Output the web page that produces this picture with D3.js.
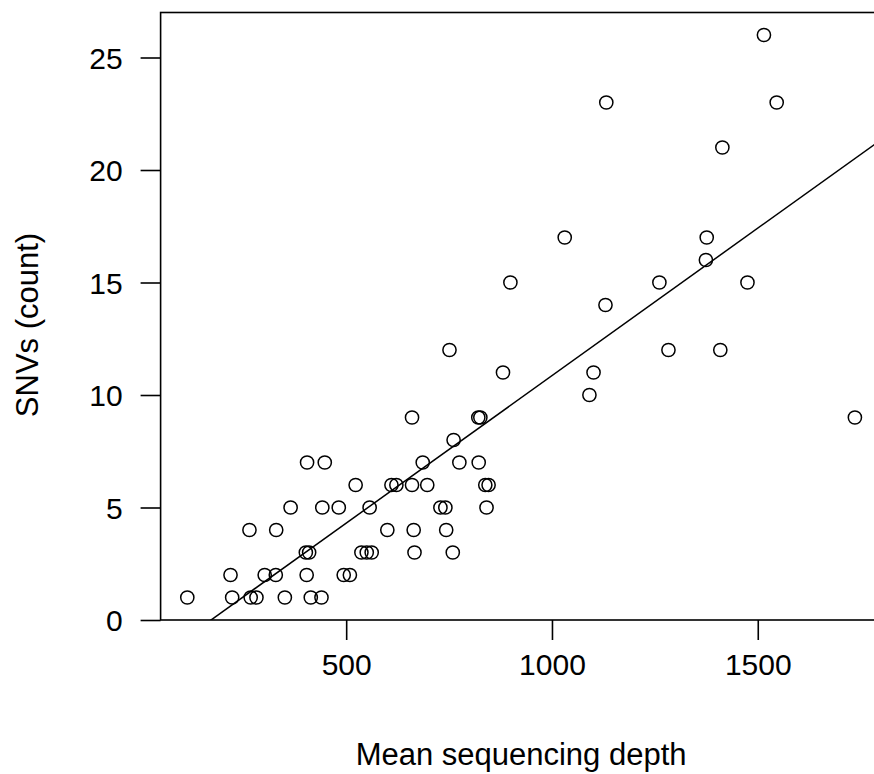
<!DOCTYPE html>
<html>
<head>
<meta charset="utf-8">
<script src="https://cdn.jsdelivr.net/npm/d3@7"></script>
<style>
  html, body { margin: 0; padding: 0; background: #fff; }
  svg text { font-family: "Liberation Sans", Arial, sans-serif; fill: #000; }
</style>
</head>
<body>
<div id="chart"></div>
<script>
// mean sequencing depth (x) and SNV count (y), one entry per sample
var depth = [114, 223, 268, 282, 351, 414, 440,
             219, 302, 329, 404, 494, 509,
             402, 410, 537, 550, 562, 666, 759,
             265, 330, 600, 664, 743,
             365, 442, 482, 557, 729, 741, 841,
             523, 610, 622, 660, 697, 838, 846,
             405, 448, 686, 775, 822,
             761,
             660, 821, 826, 1736,
             1091,
             881, 1101,
             751, 1283, 1409,
             1130,
             899, 1261, 1475,
             1374,
             1031, 1376,
             1414,
             1132, 1546,
             1515];
var snvs = [1, 1, 1, 1, 1, 1, 1,
            2, 2, 2, 2, 2, 2,
            3, 3, 3, 3, 3, 3, 3,
            4, 4, 4, 4, 4,
            5, 5, 5, 5, 5, 5, 5,
            6, 6, 6, 6, 6, 6, 6,
            7, 7, 7, 7, 7,
            8,
            9, 9, 9, 9,
            10,
            11, 11,
            12, 12, 12,
            14,
            15, 15, 15,
            16,
            17, 17,
            21,
            23, 23,
            26];
var xTicks = [500, 1000, 1500];
var yTicks = [0, 5, 10, 15, 20, 25];

const Width = 874, Height = 774;
const margin = {top: 12.5, left: 160.6, right: -7.6, bottom: 154};
const plotW = Width - margin.left - margin.right;
const plotH = Height - margin.top - margin.bottom;
const tickFont = 30, titleFont = 31;

var svg = d3.select("#chart").append("svg")
    .attr("width", Width).attr("height", Height);

// R style: usr range extends 4% past the data on each side
const xr = d3.extent(depth), yr = d3.extent(snvs);
const xPad = (xr[1] - xr[0]) * 0.04, yPad = (yr[1] - yr[0]) * 0.04;
var xScale = d3.scaleLinear().domain([xr[0] - xPad, xr[1] + xPad]).range([0, plotW]);
var yScale = d3.scaleLinear().domain([yr[0] - yPad, yr[1] + yPad]).range([plotH, 0]);

var g = svg.append("g").attr("transform", "translate(" + margin.left + "," + margin.top + ")");

// axes
var xAxis = d3.axisBottom(xScale).tickValues(xTicks).tickFormat(d3.format("d"))
    .tickSize(20).tickSizeOuter(0).tickPadding(14);
var yAxis = d3.axisLeft(yScale).tickValues(yTicks).tickFormat(d3.format("d"))
    .tickSize(20).tickSizeOuter(0).tickPadding(18);

var gx = g.append("g").attr("transform", "translate(0," + plotH + ")").call(xAxis);
var gy = g.append("g").call(yAxis);
[gx, gy].forEach(a => {
    a.select(".domain").remove();
    a.selectAll("line").attr("stroke", "#000").attr("stroke-width", 1.6);
    a.selectAll("text").style("font-size", tickFont + "px")
        .style("font-family", '"Liberation Sans", Arial, sans-serif');
});
gx.selectAll("text").attr("dy", "0.71em");
gy.selectAll("text").attr("dy", "0.36em");

// box
g.append("rect").attr("x", 0).attr("y", 0).attr("width", plotW).attr("height", plotH)
    .attr("fill", "none").attr("stroke", "#000").attr("stroke-width", 1.6);

// least squares fit (abline(lm(snvs ~ depth)))
const mx = d3.mean(depth), my = d3.mean(snvs);
let sxy = 0, sxx = 0;
depth.forEach((d, i) => { sxy += (d - mx) * (snvs[i] - my); sxx += (d - mx) * (d - mx); });
const slope = sxy / sxx, intercept = my - slope * mx;
const x0 = xScale.domain()[0], x1 = xScale.domain()[1];

svg.append("clipPath").attr("id", "plotClip").append("rect")
    .attr("width", plotW).attr("height", plotH);

g.append("line")
    .attr("clip-path", "url(#plotClip)")
    .attr("x1", xScale(x0)).attr("y1", yScale(intercept + slope * x0))
    .attr("x2", xScale(x1)).attr("y2", yScale(intercept + slope * x1))
    .attr("stroke", "#000").attr("stroke-width", 1.5);

// points
g.selectAll("circle").data(depth).enter().append("circle")
    .attr("cx", d => xScale(d))
    .attr("cy", (d, i) => yScale(snvs[i]))
    .attr("r", 6.6)
    .attr("fill", "none").attr("stroke", "#000").attr("stroke-width", 1.5);

// axis titles
svg.append("text")
    .attr("x", margin.left + plotW / 2).attr("y", 765)
    .attr("text-anchor", "middle").style("font-size", titleFont + "px")
    .text("Mean sequencing depth");
svg.append("text")
    .attr("transform", "translate(38,325) rotate(-90)")
    .attr("text-anchor", "middle").style("font-size", titleFont + "px")
    .text("SNVs (count)");
</script>
</body>
</html>
